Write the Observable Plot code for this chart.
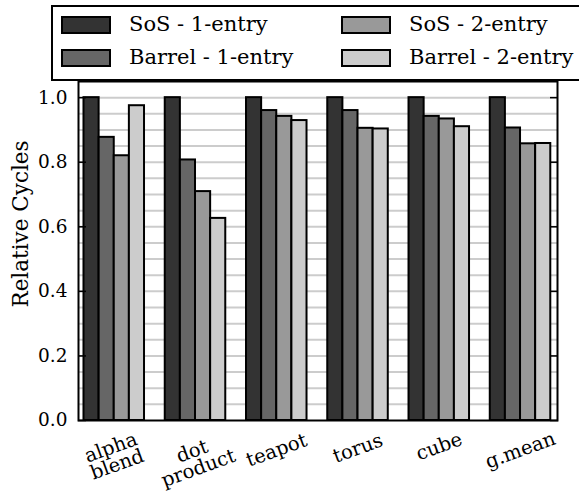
<!DOCTYPE html>
<html>
<head>
<meta charset="utf-8">
<script src="https://cdn.jsdelivr.net/npm/d3@7"></script>
<script src="https://cdn.jsdelivr.net/npm/@observablehq/plot@0.6"></script>
<style>
  html, body { margin: 0; padding: 0; background: #fff; }
  #root { position: relative; width: 579px; height: 498px; overflow: hidden; background: #fff; font-family: "DejaVu Serif", serif; }
  #root svg { position: absolute; left: 0; top: 0; }
  .legend-box { position: absolute; left: 51px; top: 5px; width: 545px; height: 76px; border: 2px solid #000; box-sizing: border-box; background: #fff; }
  .sw { position: absolute; width: 50px; height: 18px; border: 2px solid #000; box-sizing: border-box; }
  .lt { position: absolute; font-size: 21px; line-height: 34px; color: #000; white-space: nowrap; font-family: "DejaVu Serif", serif; }
</style>
</head>
<body>
<div id="root"></div>
<script>
// ---- data ----
const categories = ["alpha\nblend", "dot\nproduct", "teapot", "torus", "cube", "g.mean"];
const seriesNames = ["SoS - 1-entry", "Barrel - 1-entry", "SoS - 2-entry", "Barrel - 2-entry"];
const sos1 = [1.0, 1.0, 1.0, 1.0, 1.0, 1.0];
const barrel1 = [0.877, 0.807, 0.960, 0.960, 0.942, 0.906];
const sos2 = [0.820, 0.709, 0.942, 0.905, 0.934, 0.857];
const barrel2 = [0.975, 0.626, 0.929, 0.903, 0.910, 0.858];
const yTicks = [0.0, 0.2, 0.4, 0.6, 0.8, 1.0];
const seriesColors = ["#333333", "#666666", "#999999", "#cccccc"];
const yLabel = "Relative Cycles";

const seriesValues = [sos1, barrel1, sos2, barrel2];
const data = categories.flatMap((c, i) =>
  seriesNames.map((s, j) => ({ i, j, series: s, value: seriesValues[j][i] }))
);
const bw = 0.1862; // bar width in group units
const labelData = categories.map((c, i) => ({ i, c }));

const fsX = 19.5;
const lhX = 0.92;
const sin20 = Math.sin(20 * Math.PI / 180), cos20 = Math.cos(20 * Math.PI / 180);
function labelDy(c) {
  const lines = c.split("\n");
  const maxLen = d3.max(lines, l => l.length);
  const w = maxLen * 0.55 * fsX;
  const h = lines.length * (lines.length > 1 ? lhX : 1) * fsX;
  return 10 + (w * sin20 + h * cos20) / 2;
}

const chart = Plot.plot({
  width: 579,
  height: 498,
  marginTop: 81,
  marginLeft: 78,
  marginRight: 22,
  marginBottom: 78,
  style: { fontFamily: "DejaVu Serif, serif", fontSize: "18px", color: "#000", background: "transparent" },
  x: { domain: [-0.44, 5.455], axis: null },
  y: { domain: [0, 1.05], axis: null },
  color: { domain: seriesNames, range: seriesColors },
  marks: [
    Plot.ruleY(d3.range(1, 21).map(k => k * 0.05), { stroke: "#cccccc", strokeWidth: 2 }),
    Plot.rectY(data, {
      x1: d => d.i + (d.j - 2) * bw,
      x2: d => d.i + (d.j - 1) * bw,
      y1: 0,
      y2: "value",
      fill: "series",
      stroke: "#000",
      strokeWidth: 2
    }),
    Plot.axisY({ ticks: yTicks, tickSize: 0, tickPadding: 11, tickFormat: d3.format(".1f"), label: null, fontSize: 18.5 }),
    Plot.axisY({ ticks: yTicks, tickSize: -8, tickFormat: () => "", label: null, strokeWidth: 1.5 }),
    Plot.axisY({ anchor: "right", ticks: yTicks, tickSize: -8, tickFormat: () => "", label: null, strokeWidth: 1.5 }),
    Plot.text([yLabel], { text: d => d, frameAnchor: "left", rotate: -90, dx: -57, dy: -27, fontSize: 21.5, lineAnchor: "middle", textAnchor: "middle" }),
    ...labelData.map(d => Plot.text([d], {
      x: "i", frameAnchor: "bottom", text: "c", rotate: -20,
      dy: labelDy(d.c), lineAnchor: "middle", textAnchor: "middle",
      fontSize: fsX, lineHeight: lhX
    })),
    Plot.frame({ stroke: "#000", strokeWidth: 2 })
  ]
});

const root = document.getElementById("root");
root.appendChild(chart);

// legend (column-major, 2 columns)
const box = document.createElement("div");
box.className = "legend-box";
root.appendChild(box);
const colSwatchX = [61, 341];
const colTextX = [129, 409];
const rowY = [16, 49];
seriesNames.forEach((name, j) => {
  const col = Math.floor(j / 2), row = j % 2;
  const sw = document.createElement("div");
  sw.className = "sw";
  sw.style.left = colSwatchX[col] + "px";
  sw.style.top = rowY[row] + "px";
  sw.style.background = seriesColors[j];
  root.appendChild(sw);
  const t = document.createElement("div");
  t.className = "lt";
  t.textContent = name;
  t.style.left = colTextX[col] + "px";
  t.style.top = (rowY[row] + 9 - 18) + "px";
  root.appendChild(t);
});
</script>
</body>
</html>
